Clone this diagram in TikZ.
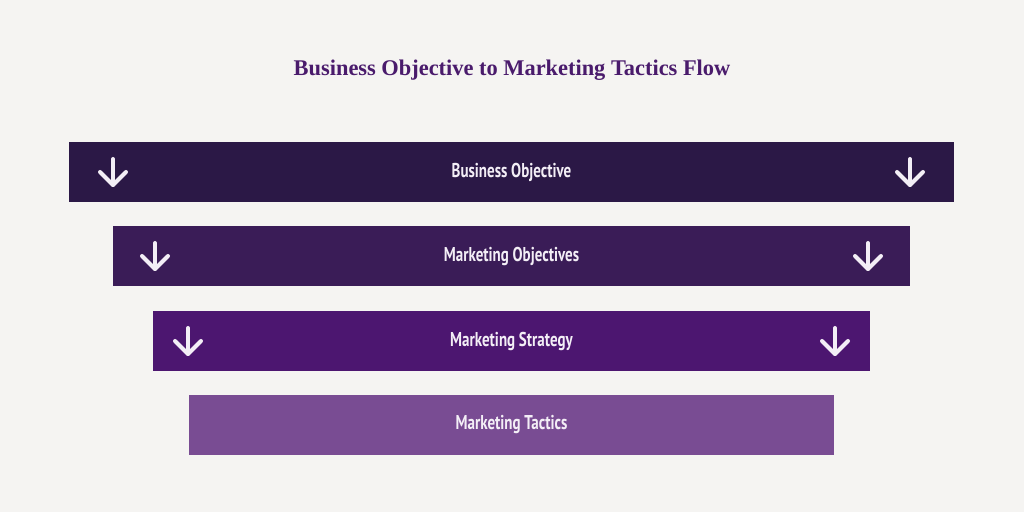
\documentclass[tikz,border=0pt]{standalone}
\usepackage{fontspec}
\newfontfamily\titlefont{Liberation Serif}
\newfontfamily\barfont{PT Sans}[FakeStretch=0.75]
\definecolor{bgcol}{HTML}{F5F4F2}
\definecolor{titlecol}{HTML}{4A1B6C}
\definecolor{barA}{HTML}{2B1846}
\definecolor{barB}{HTML}{3A1C57}
\definecolor{barC}{HTML}{4C1670}
\definecolor{barD}{HTML}{794C93}
\definecolor{textcol}{HTML}{F3EEF6}
\tikzset{
    bar/.style={inner sep=0pt, minimum height=30pt, text=textcol, font=\barfont\bfseries\fontsize{10}{12}\selectfont},
    downicon/.pic={
        \draw[textcol, line width=2pt, line cap=round, line join=round] (0,-13) -- (0,13);
        \draw[textcol, line width=2pt, line cap=round, line join=round] (-13,0) -- (0,13) -- (13,0);
    }
}
\begin{document}
\begin{tikzpicture}[x=0.5pt, y=-0.5pt]
        \fill[bgcol] (0, 0) rectangle (1024, 512);
        \node[titlecol, font=\titlefont\bfseries\fontsize{11.2}{13}\selectfont] (title) at (512, 70) {Business Objective to Marketing Tactics Flow};
        \node[bar, fill=barA, minimum width=442.5pt] (objective) at (511.5, 172) {Business Objective};
        \node[bar, fill=barB, minimum width=398.5pt] (mobjectives) at (511.5, 256) {Marketing Objectives};
        \node[bar, fill=barC, minimum width=358.5pt] (strategy) at (511.5, 341) {Marketing Strategy};
        \node[bar, fill=barD, minimum width=322.5pt] (tactics) at (511.5, 425) {Marketing Tactics};
        \pic at (113, 172) {downicon};
        \pic at (910, 172) {downicon};
        \pic at (155, 256) {downicon};
        \pic at (868, 256) {downicon};
        \pic at (188, 341) {downicon};
        \pic at (835, 341) {downicon};
    \end{tikzpicture}
\end{document}
